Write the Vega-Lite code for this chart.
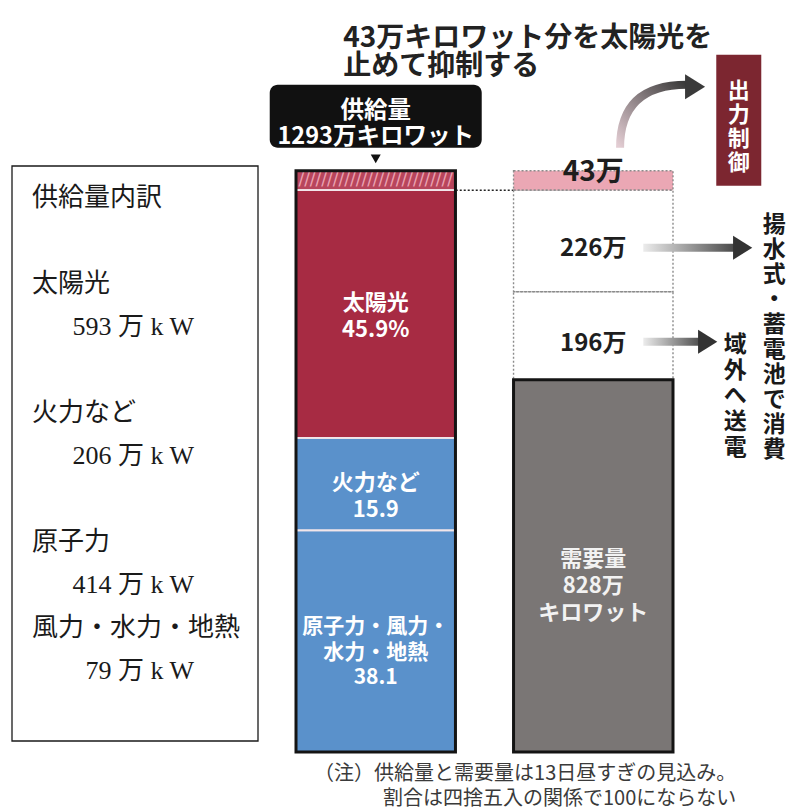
{
"$schema":"https://vega.github.io/schema/vega-lite/v6.json",
"width":786,"height":810,"padding":0,
"autosize":{"type":"fit","contains":"padding"},
"background":"#ffffff",
"config":{"view":{"stroke":null},"axis":{"disable":true},"legend":{"disable":true},"font":"Noto Sans CJK JP"},
"datasets":{
 "内訳":[
  {"行":0,"種別":"見出し","文":"供給量内訳"},
  {"行":2,"種別":"見出し","文":"太陽光"},
  {"行":3,"種別":"数値","文":"593 万 k W"},
  {"行":5,"種別":"見出し","文":"火力など"},
  {"行":6,"種別":"数値","文":"206 万 k W"},
  {"行":8,"種別":"見出し","文":"原子力"},
  {"行":9,"種別":"数値","文":"414 万 k W"},
  {"行":10,"種別":"見出し","文":"風力・水力・地熱"},
  {"行":11,"種別":"数値","文":"79 万 k W"}
 ],
 "区分":[
  {"棒":"供給量","区分":"原子力・風力・水力・地熱","下":0,"上":493,"ラベル":"原子力・風力・\n水力・地熱\n38.1"},
  {"棒":"供給量","区分":"火力など","下":493,"上":699,"ラベル":"火力など\n15.9"},
  {"棒":"供給量","区分":"太陽光","下":699,"上":1250,"ラベル":"太陽光\n45.9%"},
  {"棒":"供給量","区分":"太陽光(抑制分)","下":1250,"上":1293,"ラベル":""},
  {"棒":"需要量","区分":"需要量","下":0,"上":828,"ラベル":"需要量\n828万\nキロワット"},
  {"棒":"需要量","区分":"域外へ送電","下":828,"上":1024,"ラベル":"196万"},
  {"棒":"需要量","区分":"揚水式・蓄電池で消費","下":1024,"上":1250,"ラベル":"226万"},
  {"棒":"需要量","区分":"出力制御","下":1250,"上":1293,"ラベル":"43万"}
 ],
 "合計":[
  {"棒":"供給量","合計":1293,"注記":"供給量\n1293万キロワット"},
  {"棒":"需要量","合計":828,"注記":""}
 ],
 "注釈":[
  {"種類":"表題","文":"43万キロワット分を太陽光を\n止めて抑制する"},
  {"種類":"出力制御","文":"出\n力\n制\n御"},
  {"種類":"注","文":"（注）供給量と需要量は13日昼すぎの見込み。\n割合は四捨五入の関係で100にならない"}
 ]
},
"resolve":{"scale":{"x":"independent","y":"independent"}},
"layer":[
 {
  "data":{"name":"内訳"},
  "layer":[
   {"transform":[{"filter":"datum['行'] == 0"}],
    "mark":{"type":"rect","fill":"#ffffff","stroke":"#1a1a1a","strokeWidth":1.3,"xOffset":-20,"x2Offset":64},
    "encoding":{
     "x":{"datum":"見出し","type":"nominal","scale":{"type":"point","domain":["見出し","数値"],"range":[32,194],"padding":0},"axis":null},
     "x2":{"datum":"数値"},
     "y":{"datum":-0.744,"type":"quantitative","scale":{"domain":[-4.605,14.233],"reverse":true,"nice":false,"zero":false},"axis":null},
     "y2":{"datum":12.628}}},
   {"transform":[{"filter":"datum['種別'] == '見出し'"}],
    "mark":{"type":"text","align":"left","baseline":"middle","font":"Liberation Serif, Noto Sans CJK JP","fontSize":26,"fill":"#1a1a1a"},
    "encoding":{
     "x":{"field":"種別","type":"nominal","scale":{"type":"point","domain":["見出し","数値"],"range":[32,194],"padding":0},"axis":null},
     "y":{"field":"行","type":"quantitative","scale":{"domain":[-4.605,14.233],"reverse":true,"nice":false,"zero":false},"axis":null},
     "text":{"field":"文"}}},
   {"transform":[{"filter":"datum['種別'] == '数値'"}],
    "mark":{"type":"text","align":"right","baseline":"middle","font":"Liberation Serif, Noto Sans CJK JP","fontSize":26,"fill":"#1a1a1a"},
    "encoding":{
     "x":{"field":"種別","type":"nominal","scale":{"type":"point","domain":["見出し","数値"],"range":[32,194],"padding":0},"axis":null},
     "y":{"field":"行","type":"quantitative","scale":{"domain":[-4.605,14.233],"reverse":true,"nice":false,"zero":false},"axis":null},
     "text":{"field":"文"}}}
  ]
 },
 {
  "data":{"name":"区分"},
  "layer":[
   {"transform":[{"filter":"datum['区分'] == '出力制御'"}],
    "mark":{"type":"rule","stroke":"#222222","strokeWidth":1.5,"strokeDash":[2,2]},
    "encoding":{
     "x":{"datum":"供給量","type":"nominal","scale":{"type":"band","domain":["供給量","需要量"],"range":[296,673],"paddingInner":0.267,"paddingOuter":0},"axis":null},
     "x2":{"datum":"需要量"},
     "y":{"field":"下","type":"quantitative","scale":{"domain":[-129,1673],"nice":false,"zero":false},"axis":null}}},
   {"mark":{"type":"rect"},
    "encoding":{
     "x":{"field":"棒","type":"nominal","scale":{"type":"band","domain":["供給量","需要量"],"range":[296,673],"paddingInner":0.267,"paddingOuter":0},"axis":null},
     "y":{"field":"下","type":"quantitative","scale":{"domain":[-129,1673],"nice":false,"zero":false},"axis":null},
     "y2":{"field":"上"},
     "fill":{"field":"区分","type":"nominal","legend":null,
      "scale":{"domain":["原子力・風力・水力・地熱","火力など","太陽光","太陽光(抑制分)","需要量","域外へ送電","揚水式・蓄電池で消費","出力制御"],
               "range":["#5a91cb","#5a91cb","#a72b43","#b8455c","#7a7675","#ffffff","#ffffff","#eba7b4"]}}}},
   {"transform":[{"filter":"datum['区分'] == '太陽光(抑制分)'"},{"fold":["下","上"],"as":["端","値"]}],
    "mark":{"type":"text","text":"///////////////////////////","font":"DejaVu Sans","fontSize":17,"fill":"#eba2b2","baseline":"middle"},
    "encoding":{
     "x":{"field":"棒","type":"nominal","scale":{"type":"band","domain":["供給量","需要量"],"range":[296,673],"paddingInner":0.267,"paddingOuter":0},"axis":null},
     "y":{"field":"値","type":"quantitative","aggregate":"mean","scale":{"domain":[-129,1673],"nice":false,"zero":false},"axis":null}}},
   {"transform":[{"filter":"datum['棒'] == '供給量'"}],
    "mark":{"type":"rect","filled":false,"stroke":"#f2e6ea","strokeWidth":1.8},
    "encoding":{
     "x":{"field":"棒","type":"nominal","scale":{"type":"band","domain":["供給量","需要量"],"range":[296,673],"paddingInner":0.267,"paddingOuter":0},"axis":null},
     "y":{"field":"下","type":"quantitative","scale":{"domain":[-129,1673],"nice":false,"zero":false},"axis":null},
     "y2":{"field":"上"}}},
   {"transform":[{"filter":"datum['棒'] == '需要量' && datum['下'] >= 828"}],
    "mark":{"type":"rect","filled":false,"stroke":"#8c8c8c","strokeWidth":1.4,"strokeDash":[2,2]},
    "encoding":{
     "x":{"field":"棒","type":"nominal","scale":{"type":"band","domain":["供給量","需要量"],"range":[296,673],"paddingInner":0.267,"paddingOuter":0},"axis":null},
     "y":{"field":"下","type":"quantitative","scale":{"domain":[-129,1673],"nice":false,"zero":false},"axis":null},
     "y2":{"field":"上"}}},
   {"data":{"name":"合計"},
    "mark":{"type":"rect","filled":false,"stroke":"#141414","strokeWidth":3},
    "encoding":{
     "x":{"field":"棒","type":"nominal","scale":{"type":"band","domain":["供給量","需要量"],"range":[296,673],"paddingInner":0.267,"paddingOuter":0},"axis":null},
     "y":{"field":"合計","type":"quantitative","scale":{"domain":[-129,1673],"nice":false,"zero":false},"axis":null},
     "y2":{"datum":0}}},
   {"transform":[{"filter":"datum['区分'] == '太陽光'"},{"fold":["下","上"],"as":["端","値"]}],
    "mark":{"type":"text","fill":"#ffffff","fontSize":22,"fontWeight":"bold","lineHeight":27,"lineBreak":"\n","baseline":"middle","dy":-11},
    "encoding":{
     "x":{"field":"棒","type":"nominal","scale":{"type":"band","domain":["供給量","需要量"],"range":[296,673],"paddingInner":0.267,"paddingOuter":0},"axis":null},
     "y":{"field":"値","type":"quantitative","aggregate":"mean","scale":{"domain":[-129,1673],"nice":false,"zero":false},"axis":null},
     "text":{"field":"ラベル"}}},
   {"transform":[{"filter":"datum['区分'] == '需要量'"},{"fold":["下","上"],"as":["端","値"]}],
    "mark":{"type":"text","fill":"#f2f2f2","fontSize":22,"fontWeight":"bold","lineHeight":27,"lineBreak":"\n","baseline":"middle","dy":-7},
    "encoding":{
     "x":{"field":"棒","type":"nominal","scale":{"type":"band","domain":["供給量","需要量"],"range":[296,673],"paddingInner":0.267,"paddingOuter":0},"axis":null},
     "y":{"field":"値","type":"quantitative","aggregate":"mean","scale":{"domain":[-129,1673],"nice":false,"zero":false},"axis":null},
     "text":{"field":"ラベル"}}},
   {"transform":[{"filter":"datum['区分'] == '火力など'"},{"fold":["下","上"],"as":["端","値"]}],
    "mark":{"type":"text","fill":"#ffffff","fontSize":22,"fontWeight":"bold","lineHeight":27,"lineBreak":"\n","baseline":"middle","dy":-1},
    "encoding":{
     "x":{"field":"棒","type":"nominal","scale":{"type":"band","domain":["供給量","需要量"],"range":[296,673],"paddingInner":0.267,"paddingOuter":0},"axis":null},
     "y":{"field":"値","type":"quantitative","aggregate":"mean","scale":{"domain":[-129,1673],"nice":false,"zero":false},"axis":null},
     "text":{"field":"ラベル"}}},
   {"transform":[{"filter":"datum['区分'] == '原子力・風力・水力・地熱'"},{"fold":["下","上"],"as":["端","値"]}],
    "mark":{"type":"text","fill":"#ffffff","fontSize":21,"fontWeight":"bold","lineHeight":25.5,"lineBreak":"\n","baseline":"middle","dy":-14},
    "encoding":{
     "x":{"field":"棒","type":"nominal","scale":{"type":"band","domain":["供給量","需要量"],"range":[296,673],"paddingInner":0.267,"paddingOuter":0},"axis":null},
     "y":{"field":"値","type":"quantitative","aggregate":"mean","scale":{"domain":[-129,1673],"nice":false,"zero":false},"axis":null},
     "text":{"field":"ラベル"}}},
   {"transform":[{"filter":"datum['区分'] == '域外へ送電' || datum['区分'] == '揚水式・蓄電池で消費'"},{"fold":["下","上"],"as":["端","値"]}],
    "mark":{"type":"text","fill":"#1e1e1e","fontSize":24,"fontWeight":"bold","baseline":"middle","dy":8},
    "encoding":{
     "x":{"field":"棒","type":"nominal","scale":{"type":"band","domain":["供給量","需要量"],"range":[296,673],"paddingInner":0.267,"paddingOuter":0},"axis":null},
     "y":{"field":"値","type":"quantitative","aggregate":"mean","scale":{"domain":[-129,1673],"nice":false,"zero":false},"axis":null},
     "text":{"field":"ラベル"}}},
   {"transform":[{"filter":"datum['区分'] == '出力制御'"}],
    "mark":{"type":"text","fill":"#1e1e1e","fontSize":28,"fontWeight":"bold","baseline":"middle","dy":2},
    "encoding":{
     "x":{"field":"棒","type":"nominal","scale":{"type":"band","domain":["供給量","需要量"],"range":[296,673],"paddingInner":0.267,"paddingOuter":0},"axis":null},
     "y":{"field":"上","type":"quantitative","scale":{"domain":[-129,1673],"nice":false,"zero":false},"axis":null},
     "text":{"field":"ラベル"}}},
   {"data":{"name":"合計"},"transform":[{"filter":"datum['棒'] == '供給量'"}],
    "mark":{"type":"bar","width":212,"fill":"#111111","cornerRadius":8,"yOffset":-23,"y2Offset":-86},
    "encoding":{
     "x":{"field":"棒","type":"nominal","scale":{"type":"band","domain":["供給量","需要量"],"range":[296,673],"paddingInner":0.267,"paddingOuter":0},"axis":null},
     "y":{"field":"合計","type":"quantitative","scale":{"domain":[-129,1673],"nice":false,"zero":false},"axis":null},
     "y2":{"field":"合計"}}},
   {"data":{"name":"合計"},"transform":[{"filter":"datum['棒'] == '供給量'"}],
    "mark":{"type":"point","shape":"triangle-down","size":100,"filled":true,"fill":"#111111","strokeWidth":0,"opacity":1,"yOffset":-12},
    "encoding":{
     "x":{"field":"棒","type":"nominal","scale":{"type":"band","domain":["供給量","需要量"],"range":[296,673],"paddingInner":0.267,"paddingOuter":0},"axis":null},
     "y":{"field":"合計","type":"quantitative","scale":{"domain":[-129,1673],"nice":false,"zero":false},"axis":null}}},
   {"data":{"name":"合計"},"transform":[{"filter":"datum['棒'] == '供給量'"}],
    "mark":{"type":"text","fill":"#ffffff","fontSize":23.5,"fontWeight":"bold","lineHeight":26,"lineBreak":"\n","baseline":"middle","dy":-60},
    "encoding":{
     "x":{"field":"棒","type":"nominal","scale":{"type":"band","domain":["供給量","需要量"],"range":[296,673],"paddingInner":0.267,"paddingOuter":0},"axis":null},
     "y":{"field":"合計","type":"quantitative","scale":{"domain":[-129,1673],"nice":false,"zero":false},"axis":null},
     "text":{"field":"注記"}}},
   {"data":{"name":"注釈"},"transform":[{"filter":"datum['種類'] == '表題'"}],
    "mark":{"type":"text","align":"left","baseline":"middle","fill":"#222222","fontSize":28,"fontWeight":"bold","lineHeight":28,"lineBreak":"\n","dx":-250,"dy":-132},
    "encoding":{
     "x":{"datum":"需要量","type":"nominal","scale":{"type":"band","domain":["供給量","需要量"],"range":[296,673],"paddingInner":0.267,"paddingOuter":0},"axis":null},
     "y":{"datum":1293,"type":"quantitative","scale":{"domain":[-129,1673],"nice":false,"zero":false},"axis":null},
     "text":{"field":"文"}}},
   {"data":{"name":"注釈"},"transform":[{"filter":"datum['種類'] == '出力制御'"}],
    "mark":{"type":"point","shape":"M -1 1 Q -1 -0.75 0.85 -0.75","size":5184,"filled":false,"opacity":1,"strokeWidth":8,"strokeCap":"butt",
      "stroke":{"gradient":"linear","x1":0,"y1":1,"x2":1,"y2":0,"stops":[{"offset":0,"color":"#e3cdd3"},{"offset":1,"color":"#3a3a3a"}]},
      "xOffset":62.8,"yOffset":-59},
    "encoding":{
     "x":{"datum":"需要量","type":"nominal","scale":{"type":"band","domain":["供給量","需要量"],"range":[296,673],"paddingInner":0.267,"paddingOuter":0},"axis":null},
     "y":{"datum":1293,"type":"quantitative","scale":{"domain":[-129,1673],"nice":false,"zero":false},"axis":null}}},
   {"data":{"name":"注釈"},"transform":[{"filter":"datum['種類'] == '出力制御'"}],
    "mark":{"type":"point","shape":"M -0.6 -1 L 1 0 L -0.6 1 Z","size":625,"filled":true,"fill":"#3a3a3a","strokeWidth":0,"opacity":1,"xOffset":99.3,"yOffset":-84},
    "encoding":{
     "x":{"datum":"需要量","type":"nominal","scale":{"type":"band","domain":["供給量","需要量"],"range":[296,673],"paddingInner":0.267,"paddingOuter":0},"axis":null},
     "y":{"datum":1293,"type":"quantitative","scale":{"domain":[-129,1673],"nice":false,"zero":false},"axis":null}}},
   {"data":{"name":"注釈"},"transform":[{"filter":"datum['種類'] == '出力制御'"}],
    "mark":{"type":"bar","width":45,"fill":"#7c2630","xOffset":145.5,"yOffset":15,"y2Offset":-116},
    "encoding":{
     "x":{"datum":"需要量","type":"nominal","scale":{"type":"band","domain":["供給量","需要量"],"range":[296,673],"paddingInner":0.267,"paddingOuter":0},"axis":null},
     "y":{"datum":1293,"type":"quantitative","scale":{"domain":[-129,1673],"nice":false,"zero":false},"axis":null},
     "y2":{"datum":1293}}},
   {"data":{"name":"注釈"},"transform":[{"filter":"datum['種類'] == '出力制御'"}],
    "mark":{"type":"text","fill":"#ffffff","fontSize":22,"fontWeight":"bold","lineHeight":24,"lineBreak":"\n","baseline":"middle","dx":145.5,"dy":-80},
    "encoding":{
     "x":{"datum":"需要量","type":"nominal","scale":{"type":"band","domain":["供給量","需要量"],"range":[296,673],"paddingInner":0.267,"paddingOuter":0},"axis":null},
     "y":{"datum":1293,"type":"quantitative","scale":{"domain":[-129,1673],"nice":false,"zero":false},"axis":null},
     "text":{"field":"文"}}},
   {"transform":[{"filter":"datum['区分'] == '揚水式・蓄電池で消費'"}],
    "mark":{"type":"bar","width":100,"xOffset":100,"yOffset":-40,"y2Offset":-48,
      "fill":{"gradient":"linear","x1":0,"y1":0,"x2":1,"y2":0,"stops":[{"offset":0,"color":"#ececec"},{"offset":1,"color":"#3a3a3a"}]}},
    "encoding":{
     "x":{"datum":"需要量","type":"nominal","scale":{"type":"band","domain":["供給量","需要量"],"range":[296,673],"paddingInner":0.267,"paddingOuter":0},"axis":null},
     "y":{"field":"下","type":"quantitative","scale":{"domain":[-129,1673],"nice":false,"zero":false},"axis":null},
     "y2":{"field":"下"}}},
   {"transform":[{"filter":"datum['区分'] == '揚水式・蓄電池で消費'"}],
    "mark":{"type":"point","shape":"M -0.6 -1 L 1 0 L -0.6 1 Z","size":576,"filled":true,"fill":"#333333","strokeWidth":0,"opacity":1,"xOffset":147,"yOffset":-44},
    "encoding":{
     "x":{"datum":"需要量","type":"nominal","scale":{"type":"band","domain":["供給量","需要量"],"range":[296,673],"paddingInner":0.267,"paddingOuter":0},"axis":null},
     "y":{"field":"下","type":"quantitative","scale":{"domain":[-129,1673],"nice":false,"zero":false},"axis":null}}},
   {"transform":[{"filter":"datum['区分'] == '域外へ送電'"}],
    "mark":{"type":"bar","width":64,"xOffset":82,"yOffset":-34,"y2Offset":-42,
      "fill":{"gradient":"linear","x1":0,"y1":0,"x2":1,"y2":0,"stops":[{"offset":0,"color":"#ececec"},{"offset":1,"color":"#3a3a3a"}]}},
    "encoding":{
     "x":{"datum":"需要量","type":"nominal","scale":{"type":"band","domain":["供給量","需要量"],"range":[296,673],"paddingInner":0.267,"paddingOuter":0},"axis":null},
     "y":{"field":"下","type":"quantitative","scale":{"domain":[-129,1673],"nice":false,"zero":false},"axis":null},
     "y2":{"field":"下"}}},
   {"transform":[{"filter":"datum['区分'] == '域外へ送電'"}],
    "mark":{"type":"point","shape":"M -0.6 -1 L 1 0 L -0.6 1 Z","size":576,"filled":true,"fill":"#333333","strokeWidth":0,"opacity":1,"xOffset":112,"yOffset":-38},
    "encoding":{
     "x":{"datum":"需要量","type":"nominal","scale":{"type":"band","domain":["供給量","需要量"],"range":[296,673],"paddingInner":0.267,"paddingOuter":0},"axis":null},
     "y":{"field":"下","type":"quantitative","scale":{"domain":[-129,1673],"nice":false,"zero":false},"axis":null}}},
   {"transform":[{"filter":"datum['区分'] == '揚水式・蓄電池で消費'"}],
    "mark":{"type":"text","text":"揚\n水\n式\n・\n蓄\n電\n池\nで\n消\n費","lineBreak":"\n","fill":"#1a1a1a","fontSize":23,"fontWeight":"bold","lineHeight":25,"baseline":"middle","dx":181,"dy":-67},
    "encoding":{
     "x":{"datum":"需要量","type":"nominal","scale":{"type":"band","domain":["供給量","需要量"],"range":[296,673],"paddingInner":0.267,"paddingOuter":0},"axis":null},
     "y":{"field":"下","type":"quantitative","scale":{"domain":[-129,1673],"nice":false,"zero":false},"axis":null}}},
   {"transform":[{"filter":"datum['区分'] == '域外へ送電'"}],
    "mark":{"type":"text","text":"域\n外\nへ\n送\n電","lineBreak":"\n","fill":"#1a1a1a","fontSize":23,"fontWeight":"bold","lineHeight":25.75,"baseline":"middle","dx":142,"dy":-35},
    "encoding":{
     "x":{"datum":"需要量","type":"nominal","scale":{"type":"band","domain":["供給量","需要量"],"range":[296,673],"paddingInner":0.267,"paddingOuter":0},"axis":null},
     "y":{"field":"下","type":"quantitative","scale":{"domain":[-129,1673],"nice":false,"zero":false},"axis":null}}},
   {"data":{"name":"注釈"},"transform":[{"filter":"datum['種類'] == '注'"}],
    "mark":{"type":"text","align":"right","baseline":"middle","fill":"#3a3a3a","fontSize":20,"lineHeight":25,"lineBreak":"\n","dx":143,"dy":22},
    "encoding":{
     "x":{"datum":"需要量","type":"nominal","scale":{"type":"band","domain":["供給量","需要量"],"range":[296,673],"paddingInner":0.267,"paddingOuter":0},"axis":null},
     "y":{"datum":0,"type":"quantitative","scale":{"domain":[-129,1673],"nice":false,"zero":false},"axis":null},
     "text":{"field":"文"}}}
  ]
 }
]
}
